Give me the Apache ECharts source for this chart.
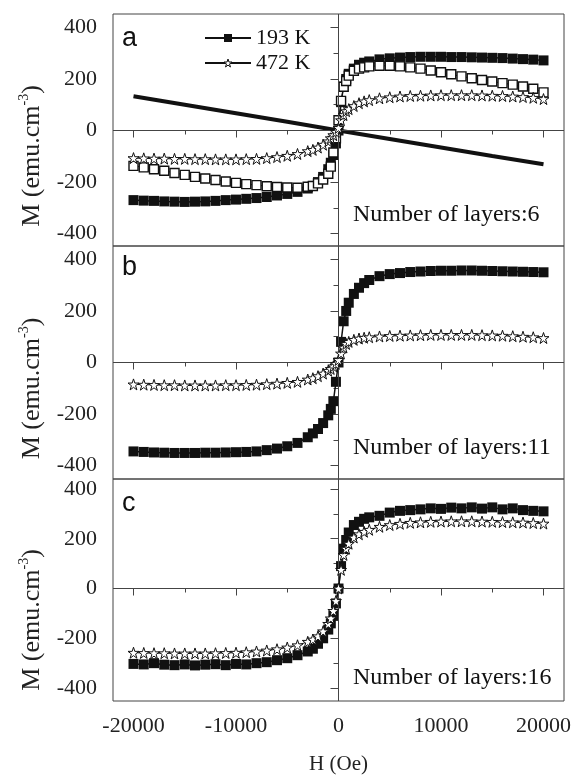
<!DOCTYPE html>
<html>
<head>
<meta charset="utf-8">
<script src="https://cdn.jsdelivr.net/npm/echarts@6/dist/echarts.min.js"></script>
<style>
  html, body { margin: 0; padding: 0; background: #fff; }
  #chart { width: 574px; height: 776px; }
</style>
</head>
<body>
<div id="chart"></div>
<script>
// field values (Oe) shared by the loop curves
const H = [-20000, -19000, -18000, -17000, -16000, -15000, -14000, -13000, -12000, -11000,
  -10000, -9000, -8000, -7000, -6000, -5000, -4000, -3000, -2500, -2000, -1500, -1000, -750, -500, -250,
  0, 250, 500, 750, 1000, 1500, 2000, 2500, 3000, 4000, 5000, 6000, 7000, 8000, 9000,
  10000, 11000, 12000, 13000, 14000, 15000, 16000, 17000, 18000, 19000, 20000];

// panel a (6 layers)
const a193 = [-270, -272, -273, -275, -276, -277, -276, -275, -273, -270,
  -268, -265, -262, -258, -252, -246, -238, -225, -215, -200, -180, -150, -125, -95, -50,
  0, 110, 170, 200, 220, 240, 255, 263, 268, 276, 280, 283, 285, 286, 286,
  286, 285, 285, 284, 283, 282, 281, 279, 277, 275, 272];
const aOpen = [-137, -143, -150, -156, -165, -172, -180, -186, -192, -198,
  -203, -208, -212, -216, -219, -221, -222, -218, -215, -205, -190, -168, -140, -85, -30,
  40, 115, 170, 192, 213, 232, 240, 245, 249, 251, 251, 249, 245, 240, 233,
  226, 218, 210, 203, 196, 190, 184, 178, 171, 162, 148];
const a472 = [-107, -108, -109, -109, -110, -110, -111, -111, -112, -112,
  -112, -111, -110, -107, -103, -98, -91, -80, -75, -66, -55, -42, -30, -18, -5,
  10, 40, 60, 75, 83, 95, 106, 113, 118, 125, 129, 132, 134, 135, 136,
  137, 137, 137, 137, 136, 135, 134, 132, 130, 127, 122];
const lineH = [-20000, -15000, -10000, -5000, 0, 5000, 10000, 15000, 20000];
const aLine = [133, 100, 67, 34, 0, -33, -66, -99, -131];

// panel b (11 layers)
const b193 = [-345, -347, -349, -350, -351, -351, -351, -350, -350, -349,
  -348, -347, -345, -340, -334, -325, -312, -290, -275, -258, -235, -205, -180, -150, -75,
  0, 80, 160, 200, 232, 266, 290, 308, 320, 335, 343, 347, 351, 353, 355,
  356, 356, 357, 357, 356, 355, 354, 353, 352, 351, 350];
const b472 = [-85, -86, -87, -88, -88, -89, -89, -89, -89, -88,
  -88, -87, -86, -84, -82, -79, -75, -66, -61, -53, -43, -32, -25, -15, -5,
  10, 35, 58, 72, 80, 88, 93, 96, 98, 101, 103, 104, 105, 106, 107,
  107, 107, 107, 107, 106, 105, 104, 102, 100, 98, 95];

// panel c (16 layers)
const c193 = [-303, -305, -300, -306, -308, -305, -309, -306, -304, -308,
  -303, -305, -300, -296, -288, -280, -268, -253, -242, -222, -200, -165, -140, -110, -60,
  0, 90, 160, 195, 225, 255, 268, 280, 286, 292, 305, 312, 315, 318, 322,
  320, 325, 322, 326, 321, 326, 318, 322, 315, 312, 310];
const c472 = [-258, -259, -260, -260, -261, -261, -261, -261, -260, -259,
  -258, -256, -253, -249, -244, -237, -228, -214, -205, -192, -172, -142, -120, -90, -50,
  0, 75, 135, 160, 180, 205, 218, 228, 236, 248, 255, 260, 264, 266, 268,
  269, 270, 270, 270, 269, 268, 267, 266, 265, 263, 261];

const xMajor = [-20000, -10000, 0, 10000, 20000];
const xMinor = [-15000, -5000, 5000, 15000];
const yMajor = [-400, -200, 0, 200, 400];
const yMinor = [-300, -100, 100, 300];
const layers = ['Number of layers:6', 'Number of layers:11', 'Number of layers:16'];
const letters = ['a', 'b', 'c'];

const serif = "'Liberation Serif', 'Times New Roman', serif";
const ink = '#111';
const frame = '#444';
const starPath = 'path://M12,0 L14.9,8.6 L24,8.6 L16.6,14 L19.4,22.8 L12,17.4 L4.6,22.8 L7.4,14 L0,8.6 L9.1,8.6 Z';

const grids = [
  { top: 14, height: 232, yMin: -448, yMax: 452 },
  { top: 246, height: 233, yMin: -452, yMax: 452 },
  { top: 479, height: 230, yMin: -452, yMax: 440 }
];

function pairs(xs, ys) {
  return xs.map((x, i) => [x, ys[i]]);
}

let xAxis = [], yAxis = [];
grids.forEach((g, i) => {
  const last = i === 2;
  xAxis.push({
    gridIndex: i, type: 'value', position: 'bottom', min: -22000, max: 22000,
    axisLine: { show: false }, splitLine: { show: false },
    axisTick: { show: true, customValues: xMajor, length: 7, lineStyle: { color: frame } },
    axisLabel: {
      show: last, customValues: xMajor, margin: 14, formatter: v => String(v),
      fontFamily: serif, fontSize: 22, color: '#222'
    },
    name: last ? 'H (Oe)' : '', nameLocation: 'middle', nameGap: 53,
    nameTextStyle: { fontFamily: serif, fontSize: 21, color: '#222' }
  });
  xAxis.push({
    gridIndex: i, type: 'value', position: 'bottom', min: -22000, max: 22000,
    axisLine: { show: false }, splitLine: { show: false },
    axisTick: { show: true, customValues: xMinor, length: 4, lineStyle: { color: frame } },
    axisLabel: { show: false }
  });
  yAxis.push({
    gridIndex: i, type: 'value', position: 'left', min: g.yMin, max: g.yMax,
    axisLine: { show: false }, splitLine: { show: false },
    axisTick: { show: true, customValues: yMajor, length: 8, lineStyle: { color: frame } },
    axisLabel: {
      customValues: yMajor, margin: 16, formatter: v => String(v),
      fontFamily: serif, fontSize: 22, color: '#222'
    }
  });
  yAxis.push({
    gridIndex: i, type: 'value', position: 'left', min: g.yMin, max: g.yMax,
    axisLine: { show: false }, splitLine: { show: false },
    axisTick: { show: true, customValues: yMinor, length: 5, lineStyle: { color: frame } },
    axisLabel: { show: false }
  });
});

function filledSq(name, i, ys) {
  return {
    name: name, type: 'line', xAxisIndex: i * 2, yAxisIndex: i * 2,
    data: pairs(H, ys), symbol: 'rect', symbolSize: 10,
    itemStyle: { color: ink }, lineStyle: { color: ink, width: 1.5 }, z: 3
  };
}
function openSq(name, i, ys) {
  return {
    name: name, type: 'line', xAxisIndex: i * 2, yAxisIndex: i * 2,
    data: pairs(H, ys), symbol: 'rect', symbolSize: 9,
    itemStyle: { color: '#fff', borderColor: ink, borderWidth: 1.4 },
    lineStyle: { color: ink, width: 1 }, z: 4
  };
}
function stars(name, i, ys) {
  return {
    name: name, type: 'line', xAxisIndex: i * 2, yAxisIndex: i * 2,
    data: pairs(H, ys), symbol: starPath, symbolSize: 11,
    itemStyle: { color: '#fff', borderColor: ink, borderWidth: 1 },
    lineStyle: { color: ink, width: 1 }, z: 5
  };
}
function zeroLines(i) {
  return {
    name: 'zero', type: 'line', xAxisIndex: i * 2, yAxisIndex: i * 2, data: [],
    markLine: {
      silent: true, symbol: ['none', 'none'], label: { show: false },
      lineStyle: { color: frame, width: 1, type: 'solid' },
      data: [{ xAxis: 0 }, { yAxis: 0 }]
    }, z: 1
  };
}

const series = [
  zeroLines(0), zeroLines(1), zeroLines(2),
  {
    name: 'substrate', type: 'line', xAxisIndex: 0, yAxisIndex: 0,
    data: pairs(lineH, aLine), showSymbol: false, symbol: 'none',
    lineStyle: { color: ink, width: 4 }, z: 2
  },
  filledSq('193 K', 0, a193),
  openSq('193 K open', 0, aOpen),
  stars('472 K', 0, a472),
  filledSq('193 K', 1, b193),
  stars('472 K', 1, b472),
  filledSq('193 K', 2, c193),
  stars('472 K', 2, c472)
];

const graphic = [];
grids.forEach((g, i) => {
  graphic.push({
    type: 'text', left: 122, top: g.top + (i === 1 ? 8 : 11),
    style: { text: letters[i], font: "27px 'Liberation Sans', Arial, sans-serif", fill: '#111' }
  });
  graphic.push({
    type: 'text', left: 353, top: g.top + g.height - 43,
    style: { text: layers[i], font: '24px ' + serif, fill: '#111' }
  });
  // rotated y-axis title, sits a little below the panel middle as in the figure
  graphic.push({
    type: 'text', x: 31, y: g.top + g.height / 2 + 26, rotation: Math.PI / 2,
    style: {
      text: '{m|M (emu.cm}{s|-3}{m|)}', align: 'center', verticalAlign: 'middle',
      rich: {
        m: { font: '26px ' + serif, fill: '#222', verticalAlign: 'bottom', lineHeight: 28 },
        s: { font: '14px ' + serif, fill: '#222', verticalAlign: 'top', lineHeight: 28 }
      }
    }
  });
});

const chart = echarts.init(document.getElementById('chart'));
chart.setOption({
  animation: false,
  backgroundColor: '#fff',
  grid: grids.map(g => ({
    left: 113, right: 10, top: g.top, height: g.height,
    show: true, borderColor: frame, borderWidth: 1
  })),
  legend: {
    data: [
      { name: '193 K' },
      { name: '472 K', itemStyle: { color: '#fff', borderColor: ink, borderWidth: 1 } }
    ],
    orient: 'vertical', left: 199, top: 22,
    itemWidth: 46, itemHeight: 10, itemGap: 3,
    textStyle: { fontFamily: serif, fontSize: 22, color: '#111' }
  },
  xAxis: xAxis,
  yAxis: yAxis,
  series: series,
  graphic: graphic
});
window.addEventListener('resize', () => chart.resize());
</script>
</body>
</html>
